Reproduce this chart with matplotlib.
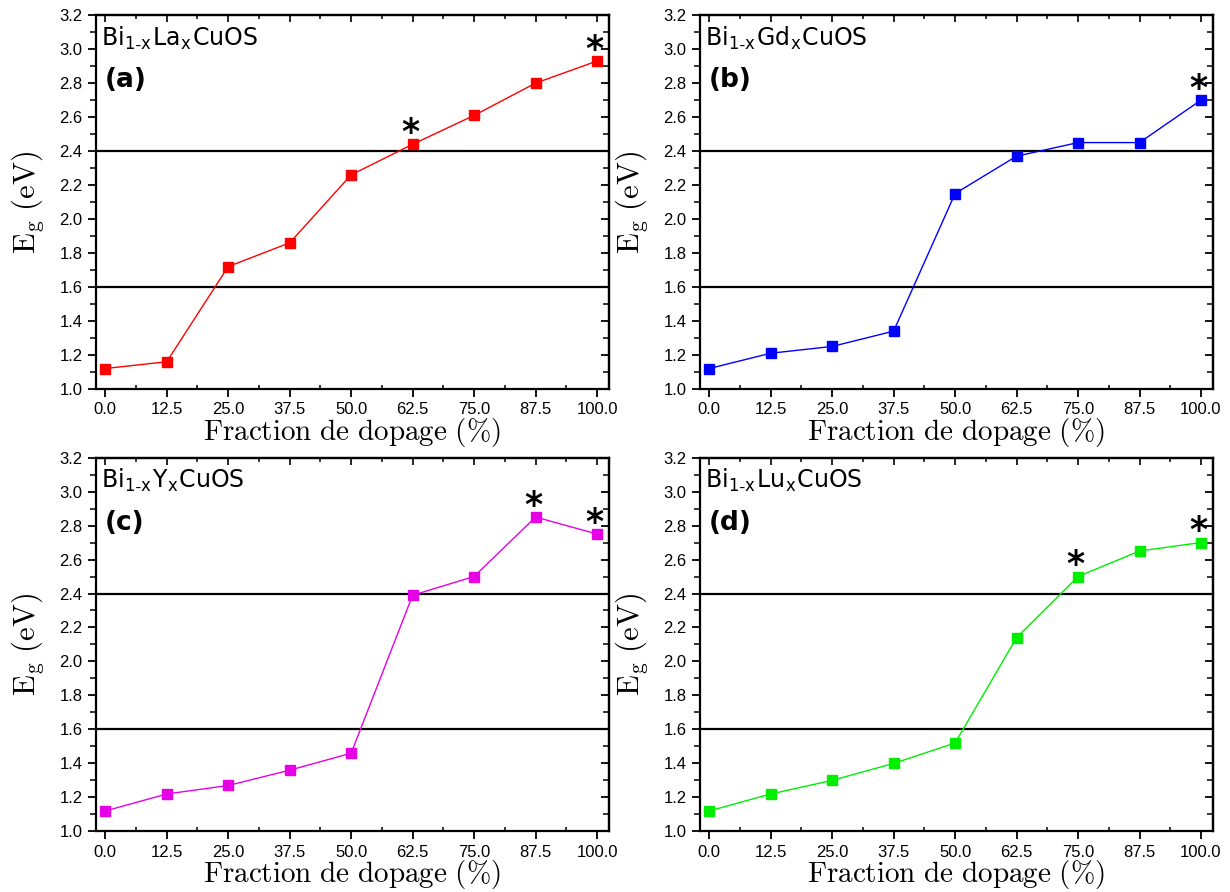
import numpy as np
import matplotlib
matplotlib.use("Agg")
import matplotlib.pyplot as plt
from matplotlib.ticker import MultipleLocator, FormatStrFormatter

# doping fraction (%) and band gaps (eV) for each panel
x_dop = [0.0, 12.5, 25.0, 37.5, 50.0, 62.5, 75.0, 87.5, 100.0]
eg_la = [1.12, 1.16, 1.72, 1.86, 2.26, 2.44, 2.61, 2.80, 2.93]
eg_gd = [1.12, 1.21, 1.25, 1.34, 2.15, 2.37, 2.45, 2.45, 2.70]
eg_y = [1.12, 1.22, 1.27, 1.36, 1.46, 2.39, 2.50, 2.85, 2.75]
eg_lu = [1.12, 1.22, 1.30, 1.40, 1.52, 2.14, 2.50, 2.65, 2.70]

dopants = ['La', 'Gd', 'Y', 'Lu']
letters = ['(a)', '(b)', '(c)', '(d)']
colors = ['#ff0000', '#0000ff', '#e600e6', '#00ee00']
stars = [[62.5, 100.0], [100.0], [87.5, 100.0], [75.0, 100.0]]
ref_lines = [1.6, 2.4]

plt.rcParams['mathtext.fontset'] = 'cm'
plt.rcParams['font.family'] = ['Liberation Sans', 'DejaVu Sans']

fig = plt.figure(figsize=(12.3, 8.92), dpi=100)
boxes = [(0.078, 0.564), (0.569, 0.564), (0.078, 0.068), (0.569, 0.068)]
w, h = 0.417, 0.419

for i, eg in enumerate([eg_la, eg_gd, eg_y, eg_lu]):
    ax = fig.add_axes([boxes[i][0], boxes[i][1], w, h])
    for yl in ref_lines:
        ax.axhline(yl, color='black', lw=1.6, zorder=1)
    ax.plot(x_dop, eg, '-s', color=colors[i], lw=1.0, ms=6.5, zorder=3)
    for xs in stars[i]:
        ys = eg[x_dop.index(xs)]
        ax.text(xs - 0.5, ys + 0.065, '*', fontsize=25, fontweight='bold', ha='center',
                va='center', family='DejaVu Sans', zorder=4)

    ax.set_xlim(-1.9, 102.4)
    ax.set_ylim(1.0, 3.2)
    ax.set_xticks(x_dop)
    ax.set_xticklabels(['%.1f' % v for v in x_dop])
    ax.yaxis.set_major_locator(MultipleLocator(0.2))
    ax.yaxis.set_minor_locator(MultipleLocator(0.1))
    ax.xaxis.set_minor_locator(MultipleLocator(6.25))
    ax.yaxis.set_major_formatter(FormatStrFormatter('%.1f'))
    ax.tick_params(axis='both', which='major', labelsize=12, width=1.3, length=6, direction='out')
    ax.tick_params(axis='y', which='minor', direction='out', length=4, width=1.1)
    ax.tick_params(axis='x', which='minor', direction='in', length=3, width=1.1)
    for s in ax.spines.values():
        s.set_linewidth(1.6)

    # inward ticks on top and right
    sx = ax.secondary_xaxis('top')
    sx.set_xticks(x_dop)
    sx.xaxis.set_minor_locator(MultipleLocator(6.25))
    sx.tick_params(which='major', direction='in', length=5, width=1.2, labeltop=False)
    sx.tick_params(which='minor', direction='in', length=3, width=1.1)
    sy = ax.secondary_yaxis('right')
    sy.yaxis.set_major_locator(MultipleLocator(0.2))
    sy.yaxis.set_minor_locator(MultipleLocator(0.1))
    sy.tick_params(which='major', direction='in', length=6, width=1.3, labelright=False)
    sy.tick_params(which='minor', direction='in', length=4, width=1.1)
    sx.spines['top'].set_linewidth(1.6)
    sy.spines['right'].set_linewidth(1.6)

    ax.set_xlabel(r'$\mathrm{Fraction\ de\ dopage\ (\%)}$', fontsize=21, labelpad=-1)
    ax.set_ylabel(r'$\mathrm{E_g\ (eV)}$', fontsize=22, labelpad=9)

    title = r'Bi$_{\mathregular{1\text{-}x}}$' + dopants[i] + r'$_{\mathregular{x}}$CuOS'
    ax.text(0.01, 0.975, title, transform=ax.transAxes, fontsize=17, ha='left', va='top',
            family=['DejaVu Sans'])
    ax.text(0.018, 0.86, letters[i], transform=ax.transAxes, fontsize=19, fontweight='bold',
            ha='left', va='top', family=['DejaVu Sans'])

fig.savefig('out.png', dpi=100)
